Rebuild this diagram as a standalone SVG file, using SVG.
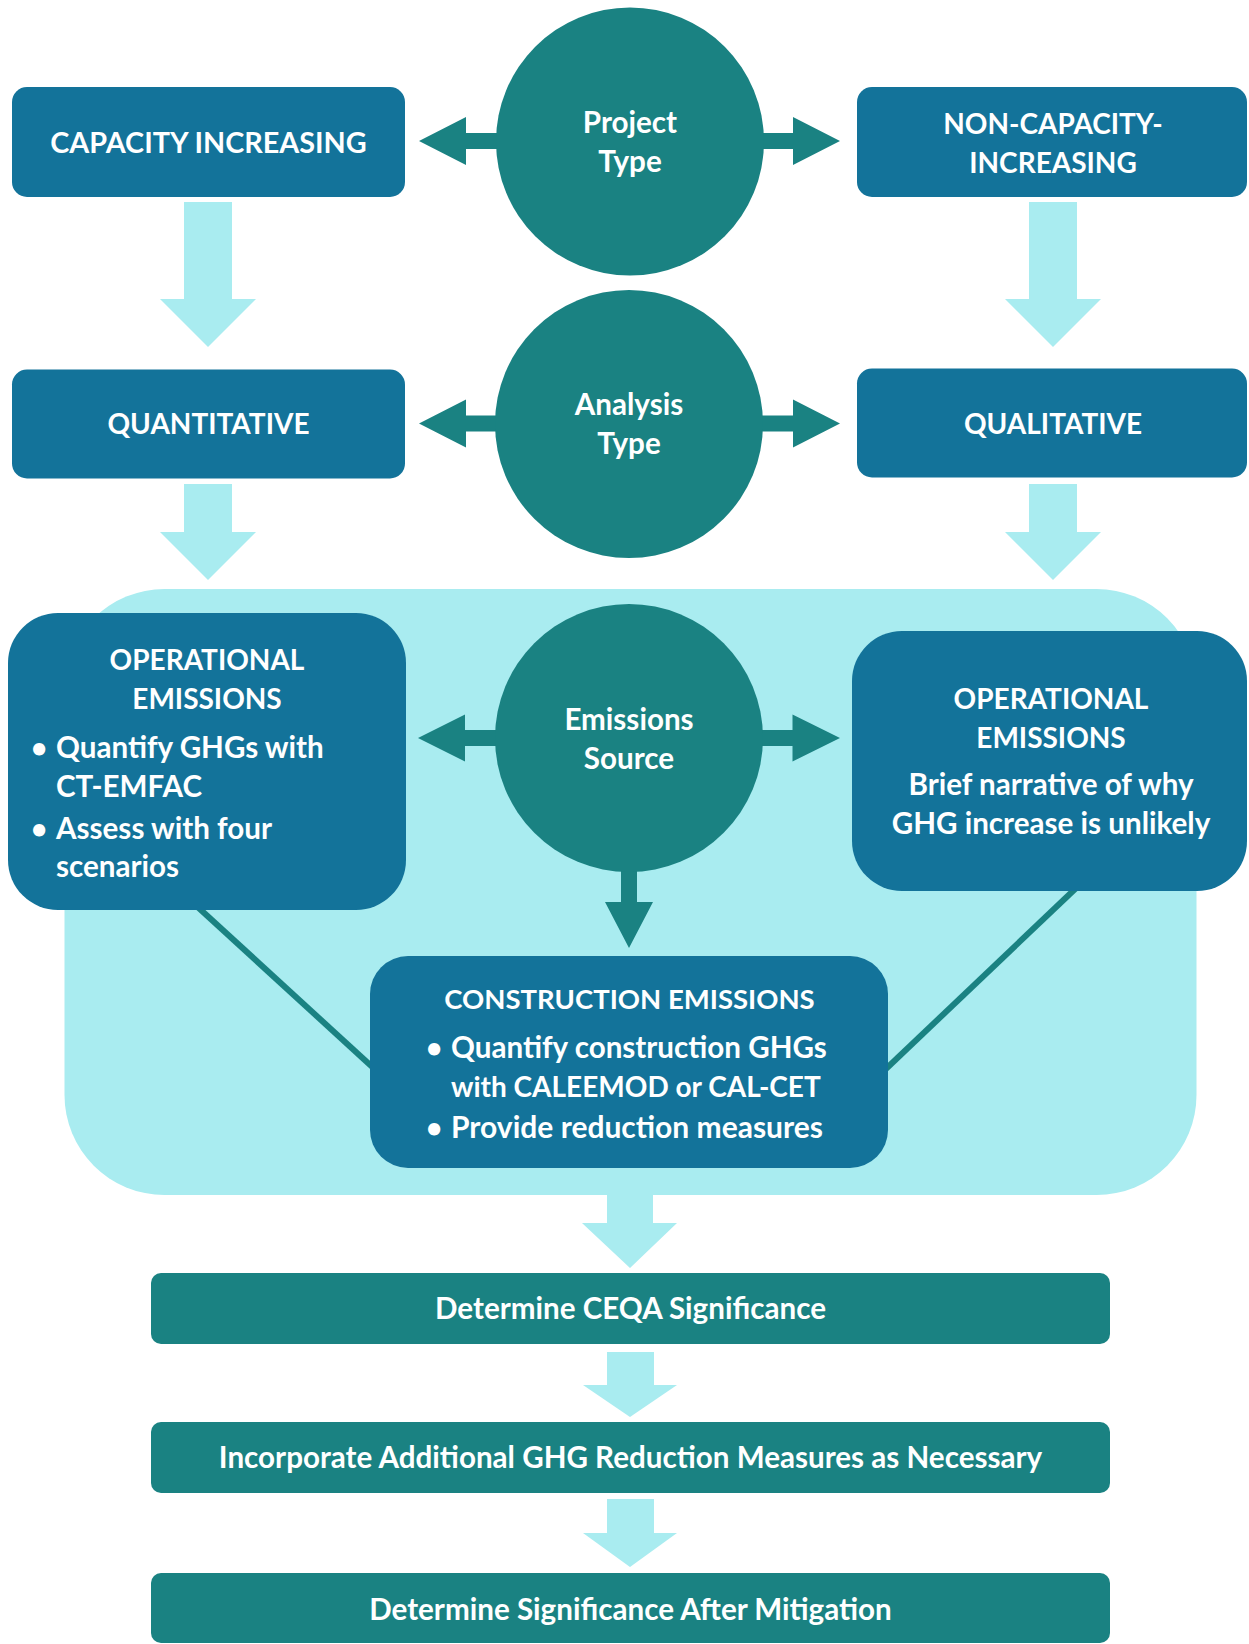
<svg xmlns="http://www.w3.org/2000/svg" width="1249" height="1644" viewBox="0 0 1249 1644">
<style>
.blue{fill:#13739A}
.teal{fill:#1A8282}
.light{fill:#A9ECF0}
.t{font-family:Lato,"Open Sans","Liberation Sans",sans-serif;font-weight:700;font-size:28px;fill:#FFFFFF}
.m{font-size:29.6px}
.c{text-anchor:middle}
.ln{stroke:#1A8282;stroke-width:6;fill:none}
</style>
<rect width="1249" height="1644" fill="#FFFFFF"/>
<g id="background">
<rect class="light" x="64.5" y="589" width="1132" height="606" rx="100"/>
</g>
<g id="connectors">
<polygon class="light" points="184,202 232,202 232,299 256,299 208,347 160,299 184,299"/>
<polygon class="light" points="1029,202 1077,202 1077,299 1101,299 1053,347 1005,299 1029,299"/>
<polygon class="light" points="184,484 232,484 232,532 256,532 208,580 160,532 184,532"/>
<polygon class="light" points="1029,484 1077,484 1077,532 1101,532 1053,580 1005,532 1029,532"/>
<polygon class="light" points="607,1190 653,1190 653,1223 677,1223 630,1268 582,1223 607,1223"/>
<polygon class="light" points="607,1352 654,1352 654,1385 677,1385 630,1417 583,1385 607,1385"/>
<polygon class="light" points="607,1499 654,1499 654,1533 677,1533 630,1567 583,1533 607,1533"/>
<polygon class="teal" points="419,141 466,117 466,133 520,133 520,149 466,149 466,165"/>
<polygon class="teal" points="840,141 793,117 793,133 740,133 740,149 793,149 793,165"/>
<polygon class="teal" points="419,423.5 466,399.5 466,415.5 520,415.5 520,431.5 466,431.5 466,447.5"/>
<polygon class="teal" points="840,423.5 793,399.5 793,415.5 740,415.5 740,431.5 793,431.5 793,447.5"/>
<polygon class="teal" points="418,738 465,714.5 465,730 520,730 520,746 465,746 465,761.5"/>
<polygon class="teal" points="840,738 792.5,714.5 792.5,730 740,730 740,746 792.5,746 792.5,761.5"/>
<polygon class="teal" points="621,850 637,850 637,902 653,902 629,948 605,902 621,902"/>
<line class="ln" x1="190" y1="900" x2="380" y2="1074"/>
<line class="ln" x1="1083" y1="881.5" x2="879" y2="1075.5"/>
</g>
<g id="project-type">
<circle class="teal" cx="630" cy="141.5" r="134"/>
<text class="t m c" x="630" y="133">Project</text>
<text class="t m c" x="630" y="172">Type</text>
</g>
<g id="capacity-increasing">
<rect class="blue" x="12" y="87" width="393" height="110" rx="15"/>
<text class="t c" x="208.5" y="153" style="font-size:28.8px">CAPACITY INCREASING</text>
</g>
<g id="non-capacity-increasing">
<rect class="blue" x="857" y="87" width="390" height="110" rx="15"/>
<text class="t c" x="1053" y="134">NON-CAPACITY-</text>
<text class="t c" x="1053" y="173">INCREASING</text>
</g>
<g id="analysis-type">
<circle class="teal" cx="629" cy="424" r="134"/>
<text class="t m c" x="629" y="415">Analysis</text>
<text class="t m c" x="629" y="454">Type</text>
</g>
<g id="quantitative">
<rect class="blue" x="12" y="369.5" width="393" height="109" rx="15"/>
<text class="t c" x="208.5" y="434">QUANTITATIVE</text>
</g>
<g id="qualitative">
<rect class="blue" x="857" y="368.5" width="390" height="109" rx="15"/>
<text class="t c" x="1053" y="434">QUALITATIVE</text>
</g>
<g id="emissions-source">
<circle class="teal" cx="629" cy="738" r="134"/>
<text class="t m c" x="629" y="730">Emissions</text>
<text class="t m c" x="629" y="769">Source</text>
</g>
<g id="operational-quantitative">
<rect class="blue" x="8" y="613" width="398" height="297" rx="50"/>
<text class="t c" x="207" y="670">OPERATIONAL</text>
<text class="t c" x="207" y="709">EMISSIONS</text>
<text class="t c" x="39" y="758">•</text>
<text class="t m" x="56" y="758">Quantify GHGs with</text>
<text class="t m" x="56" y="797">CT-EMFAC</text>
<text class="t c" x="39" y="839">•</text>
<text class="t m" x="56" y="839">Assess with four</text>
<text class="t m" x="56" y="877">scenarios</text>
</g>
<g id="operational-qualitative">
<rect class="blue" x="852" y="631" width="395" height="260" rx="50"/>
<text class="t c" x="1051" y="709">OPERATIONAL</text>
<text class="t c" x="1051" y="748">EMISSIONS</text>
<text class="t m c" x="1051" y="795">Brief narrative of why</text>
<text class="t m c" x="1051" y="834">GHG increase is unlikely</text>
</g>
<g id="construction-emissions">
<rect class="blue" x="370" y="956" width="518" height="212" rx="38"/>
<text class="t c" x="629.5" y="1009" style="font-size:27.5px">CONSTRUCTION EMISSIONS</text>
<text class="t c" x="434" y="1058">•</text>
<text class="t m" x="451" y="1058">Quantify construction GHGs</text>
<text class="t" x="451" y="1097">with CALEEMOD or CAL-CET</text>
<text class="t c" x="434" y="1138">•</text>
<text class="t m" x="451" y="1138" style="font-size:30px">Provide reduction measures</text>
</g>
<g id="ceqa-significance">
<rect class="teal" x="151" y="1273" width="959" height="71" rx="10"/>
<text class="t m c" x="630.5" y="1319">Determine CEQA Significance</text>
</g>
<g id="additional-measures">
<rect class="teal" x="151" y="1422" width="959" height="71" rx="10"/>
<text class="t m c" x="630.5" y="1468">Incorporate Additional GHG Reduction Measures as Necessary</text>
</g>
<g id="significance-after-mitigation">
<rect class="teal" x="151" y="1573" width="959" height="70" rx="10"/>
<text class="t m c" x="630.5" y="1620">Determine Significance After Mitigation</text>
</g>
</svg>
